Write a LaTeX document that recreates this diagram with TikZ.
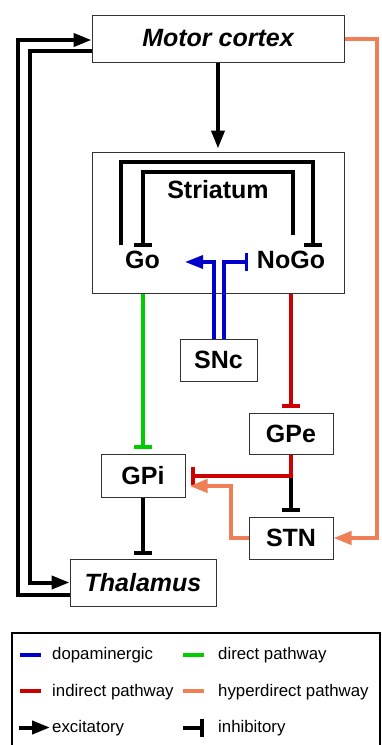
\documentclass[tikz,border=0pt]{standalone}
\usepackage{fontspec}
\setmainfont{Liberation Sans}
\usetikzlibrary{arrows.meta}
\definecolor{dblue}{RGB}{0,0,204}
\definecolor{dgreen}{RGB}{0,204,0}
\definecolor{dred}{RGB}{204,0,0}
\definecolor{hyper}{RGB}{238,127,86}
\begin{document}
\begin{tikzpicture}[x=1pt,y=-1pt,
  box/.style={draw=black!80, line width=1pt, fill=white, inner sep=0pt,
    font=\fontsize{25}{30}\selectfont\bfseries},
  lbl/.style={inner sep=0pt, font=\fontsize{25}{30}\selectfont\bfseries},
  pth/.style={line width=4pt},
  exc/.style={pth, -{Triangle[length=18pt,width=13pt]}},
  inh/.style={pth, -{Bar[width=18pt]}, shorten >=5pt},
  inhb/.style={pth, -{Bar[width=18pt]}},
  thin/.style={line width=3.4pt},
  leg/.style={inner sep=0pt, anchor=base west, font=\fontsize{16.8}{20}\selectfont},
  legline/.style={line width=4.5pt}]
\useasboundingbox (0,0) rectangle (382,745);

% boxes
\node[box, minimum width=252pt, minimum height=47pt] (mc) at (218,38.5) {\itshape Motor cortex};
\node[box, minimum width=252pt, minimum height=141pt] (str) at (218,222.5) {};
\node[lbl] (strl) at (218,190) {Striatum};
\node[lbl] (go) at (142.5,260) {Go};
\node[lbl] (nogo) at (291,260) {NoGo};
\node[box, minimum width=77pt, minimum height=42pt] (snc) at (218.5,360) {SNc};
\node[box, minimum width=84pt, minimum height=41pt] (gpe) at (291,433.5) {GPe};
\node[box, minimum width=84pt, minimum height=43pt] (gpi) at (143,475.5) {GPi};
\node[box, minimum width=84pt, minimum height=42pt] (stn) at (291,538) {STN};
\node[box, minimum width=146pt, minimum height=47pt] (thal) at (143,582.5) {\itshape Thalamus};

% coordinates
\coordinate (g0) at (121,245);
\coordinate (nb) at (313,247);
\coordinate (n0) at (293,235);
\coordinate (gb) at (143,247);
\coordinate (bl) at (214,339);
\coordinate (br) at (224,339);
\coordinate (gotip) at (185,262);
\coordinate (nogobar) at (248,262);
\coordinate (j) at (291,475.5);
\coordinate (j2) at (231,486);

% cortex -> striatum
\draw[exc, shorten >=3pt] (mc.south) -- (str.north);

% striatum internal brackets
\draw[inhb] (g0) -- (121,162) -- (313,162) -- (nb);
\draw[inhb] (n0) -- (293,172) -- (143,172) -- (gb);

% dopaminergic
\draw[dblue, exc, thin] (bl) |- (gotip);
\draw[dblue, inhb, thin] (br) |- (nogobar);

% direct pathway
\draw[dgreen, inh] (str.south -| gpi.north) -- (gpi.north);

% indirect pathway
\draw[dred, inh] (str.south -| gpe.north) -- (gpe.north);
\draw[inh] (j) -- (stn.north);
\draw[dred, pth] (gpe.south) -- (j);
\draw[dred, inh] ([xshift=2pt]j) -- (gpi.east);

% hyperdirect
\draw[hyper, exc] (mc.east) -- (377,38.5) |- (stn.east);
\draw[hyper, exc, shorten >=4pt] (stn.west) -| (j2) -- (gpi.east |- j2);

% GPi -> thalamus
\draw[inh, shorten >=4pt] (gpi.south) -- (thal.north);

% thalamus <-> cortex loops
\draw[exc] ([yshift=-12.5pt]thal.west) -- (18,595) |- ([yshift=-1.5pt]mc.west);
\draw[exc] ([yshift=-12.5pt]mc.west) -- (30,51) |- (thal.west);

% legend
\draw[line width=2pt] (12,747) -- (12,633) -- (380,633) -- (380,747);
\draw[dblue, legline] (19.5,655) -- (40.5,655);
\node[leg] (l1) at (52,659) {dopaminergic};
\draw[dgreen, legline] (183,655) -- (204,655);
\node[leg] (l2) at (218,659) {direct pathway};
\draw[dred, legline] (19.5,691) -- (40.5,691);
\node[leg] (l3) at (52,696) {indirect pathway};
\draw[hyper, legline] (183,691) -- (204,691);
\node[leg] (l4) at (218,696) {hyperdirect pathway};
\draw[exc] (19,727.5) -- (50,727.5);
\node[leg] (l5) at (52,732) {excitatory};
\draw[inhb] (183,727.5) -- (204,727.5);
\node[leg] (l6) at (218,732) {inhibitory};
\end{tikzpicture}
\end{document}
